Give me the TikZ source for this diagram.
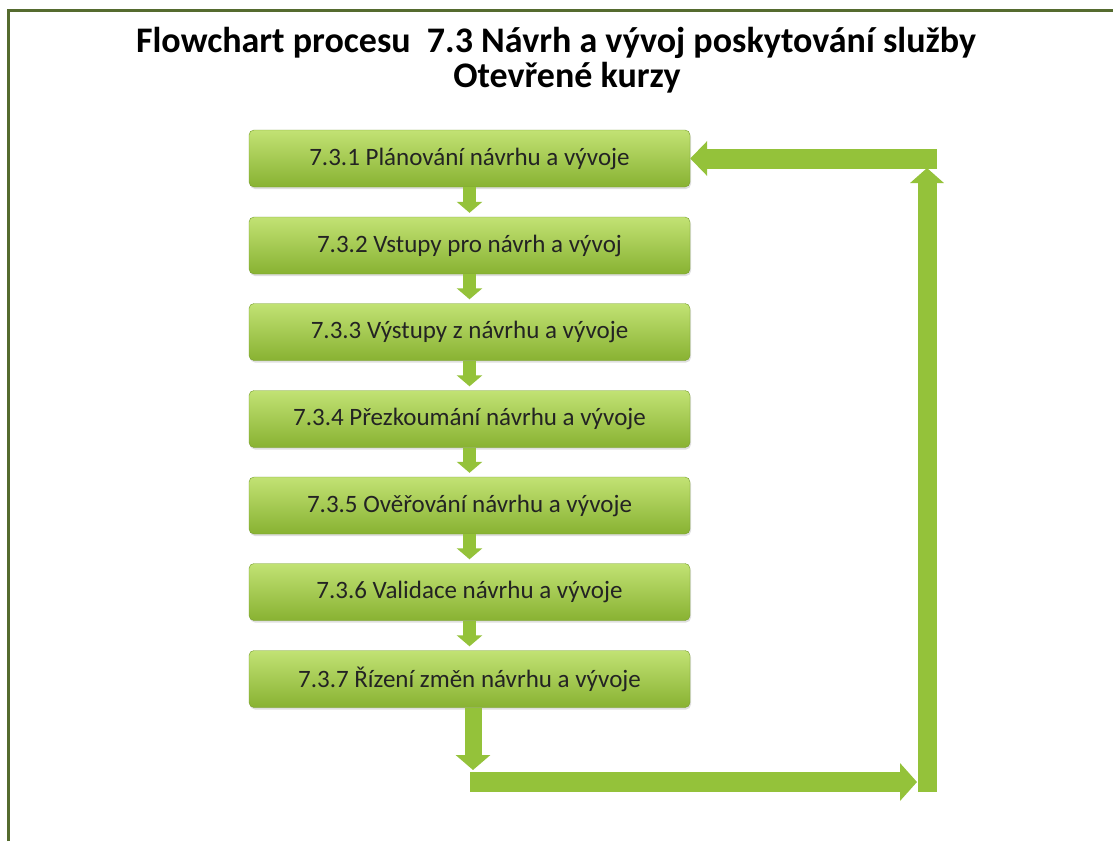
\documentclass[tikz,border=0pt]{standalone}
\usepackage{fontspec}
\setmainfont{Carlito}
\usetikzlibrary{arrows.meta, shadows}

\definecolor{framegreen}{RGB}{85,107,47}
\definecolor{boxtop}{RGB}{194,226,116}
\definecolor{boxbottom}{RGB}{136,178,50}
\definecolor{boxedge}{RGB}{118,158,44}
\definecolor{arrowgreen}{RGB}{148,194,58}
\definecolor{textgray}{RGB}{35,35,35}

\tikzset{
  box/.style={rectangle, rounded corners=5pt, draw=boxedge, top color=boxtop,
    bottom color=boxbottom, minimum width=441pt, minimum height=57pt,
    inner sep=0pt, text=textgray, font=\fontsize{25}{30}\selectfont,
    drop shadow={opacity=0.25, shadow xshift=1pt, shadow yshift=-2pt}},
  title/.style={anchor=base, font=\fontsize{36}{42}\selectfont\bfseries},
  flowarrow/.style={color=arrowgreen, line width=13pt,
    -{Triangle[width=25pt, length=11pt]}, shorten >=4pt},
  looparrow/.style={color=arrowgreen, line width=19pt,
    -{Triangle[width=35pt, length=16pt]}}
}

\begin{document}
\begin{tikzpicture}[x=1pt, y=-1pt]
\useasboundingbox[fill=white] (0,0) rectangle (1113,841);
\draw[framegreen, line width=3pt] (8,841) -- (8,10) -- (1113,10);

\node[title] (t1) at (556,52) {Flowchart procesu \ 7.3 Návrh a vývoj poskytování služby};
\node[title] (t2) at (567,87) {Otevřené kurzy};

\node[box] (b1) at (469.5,158.5) {7.3.1 Plánování návrhu a vývoje};
\node[box] (b2) at (469.5,245.5) {7.3.2 Vstupy pro návrh a vývoj};
\node[box] (b3) at (469.5,332) {7.3.3 Výstupy z návrhu a vývoje};
\node[box] (b4) at (469.5,419) {7.3.4 Přezkoumání návrhu a vývoje};
\node[box] (b5) at (469.5,505.5) {7.3.5 Ověřování návrhu a vývoje};
\node[box] (b6) at (469.5,592) {7.3.6 Validace návrhu a vývoje};
\node[box] (b7) at (469.5,679) {7.3.7 Řízení změn návrhu a vývoje};

\path[flowarrow]
(b1) edge (b2)
(b2) edge (b3)
(b3) edge (b4)
(b4) edge (b5)
(b5) edge (b6)
(b6) edge (b7);

% feedback loop
\coordinate (c1) at (473,770);
\coordinate (c2) at (470,782);
\coordinate (c3) at (917,782);
\coordinate (c4) at (927,792);
\coordinate (c5) at (927,168);
\coordinate (c6) at (937,158.5);

\draw[looparrow, line width=17pt, -{Triangle[width=34pt, length=15pt]}]
  ([xshift=3.5pt]b7.south) -- (c1);
\draw[looparrow, line width=20pt, -{Triangle[width=37pt, length=17pt]}] (c2) -- (c3);
\draw[looparrow, -{Triangle[width=33pt, length=15pt]}] (c4) -- (c5);
\draw[looparrow, line width=20pt, -{Triangle[width=34pt, length=17pt]}] (c6) -- (b1.east);

\end{tikzpicture}
\end{document}
